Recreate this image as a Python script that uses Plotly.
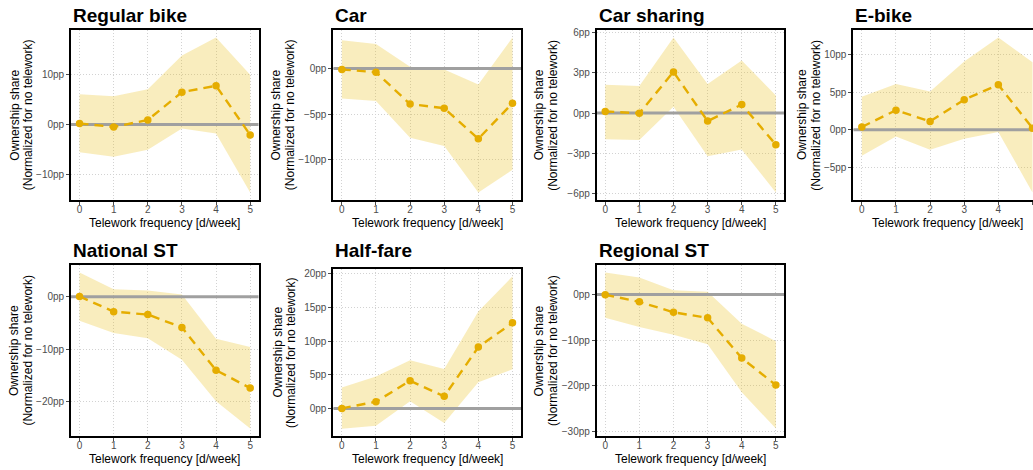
import plotly.graph_objects as go

W, H = 1033, 470

X = [0, 1, 2, 3, 4, 5]
X_TICKS = [0, 1, 2, 3, 4, 5]

panels = ["Regular bike", "Car", "Car sharing", "E-bike", "National ST", "Half-fare", "Regional ST"]

rb_est = [0.2, -0.5, 0.9, 6.5, 7.8, -2.1]
rb_lo = [-5.6, -6.5, -5.1, -0.8, -1.8, -13.7]
rb_hi = [6.1, 5.7, 7.1, 13.9, 17.5, 10.0]

car_est = [-0.1, -0.4, -3.9, -4.35, -7.7, -3.8]
car_lo = [-3.3, -3.55, -7.6, -8.5, -13.6, -11.1]
car_hi = [3.1, 2.7, 0.2, -0.1, -1.75, 3.4]

cs_est = [0.12, -0.02, 3.05, -0.6, 0.63, -2.35]
cs_lo = [-1.95, -2.0, 0.47, -3.2, -2.7, -5.9]
cs_hi = [2.1, 2.0, 5.6, 2.15, 3.9, 1.3]

eb_est = [0.35, 2.6, 1.1, 4.0, 6.0, 0.2]
eb_lo = [-3.5, -0.9, -2.7, -1.2, -0.3, -8.4]
eb_hi = [4.4, 6.1, 5.1, 9.1, 12.3, 9.0]

nst_est = [0.05, -2.85, -3.4, -5.85, -14.0, -17.4]
nst_lo = [-4.6, -6.9, -7.9, -12.0, -19.9, -25.1]
nst_hi = [4.6, 1.4, 1.2, 0.4, -8.0, -9.6]

hf_est = [0.0, 1.0, 4.1, 1.8, 9.1, 12.7]
hf_lo = [-3.0, -2.55, 1.05, -2.15, 3.9, 5.8]
hf_hi = [3.1, 4.75, 7.15, 5.85, 14.4, 19.6]

rst_est = [-0.05, -1.6, -3.9, -5.1, -13.9, -19.8]
rst_lo = [-5.1, -7.1, -8.8, -10.9, -21.4, -29.3]
rst_hi = [4.8, 3.7, 0.95, 0.6, -6.4, -10.2]

y_ticks = [
    [-10, 0, 10],
    [-10, -5, 0],
    [-6, -3, 0, 3, 6],
    [-5, 0, 5, 10],
    [-20, -10, 0],
    [0, 5, 10, 15, 20],
    [-30, -20, -10, 0],
]

data = [
    (rb_est, rb_lo, rb_hi),
    (car_est, car_lo, car_hi),
    (cs_est, cs_lo, cs_hi),
    (eb_est, eb_lo, eb_hi),
    (nst_est, nst_lo, nst_hi),
    (hf_est, hf_lo, hf_hi),
    (rst_est, rst_lo, rst_hi),
]

# layout in pixels
PANEL_W = 187.7
col_left = [71, 333.3, 596.7, 853.3]
row_top = [27, 264]
row_bot = [199, 437]
ytitle_cx = [[21.4, 283.3, 546.0, 808.8], [20.3, 283.8, 545.7]]

GOLD = "#E5AD00"
RIBBON = "rgba(235,190,20,0.28)"
TICKCOL = "#4D4D4D"
GRID = "#D2D2D2"
FONT = "Liberation Sans, Arial, sans-serif"


def fmt(v):
    s = f"{abs(v):g}pp"
    return ("\u2212" + s) if v < 0 else s


fig = go.Figure()
layout = dict(
    width=W, height=H,
    margin=dict(l=0, r=0, t=0, b=0),
    paper_bgcolor="white", plot_bgcolor="white",
    showlegend=False,
    font=dict(family=FONT, color="black"),
)
annotations = []

for i, name in enumerate(panels):
    est, lo, hi = data[i]
    r, c = (0, i) if i < 4 else (1, i - 4)
    xl = col_left[c]
    xr = min(xl + PANEL_W, W)
    top = row_top[r] + (4 if name == "Half-fare" else 0)
    bot = row_bot[r]

    xlo = min(X) - 0.05 * (max(X) - min(X))
    xhi_full = max(X) + 0.05 * (max(X) - min(X))
    scale = PANEL_W / (xhi_full - xlo)
    xhi = xlo + (xr - xl) / scale

    ymin, ymax = min(min(lo), 0), max(max(hi), 0)
    R = ymax - ymin
    yr = [ymin - 0.05 * R, ymax + 0.05 * R]

    xs = "x" if i == 0 else f"x{i+1}"
    ys = "y" if i == 0 else f"y{i+1}"
    xa = "xaxis" if i == 0 else f"xaxis{i+1}"
    ya = "yaxis" if i == 0 else f"yaxis{i+1}"

    fig.add_trace(go.Scatter(
        x=X + X[::-1], y=hi + lo[::-1], fill="toself", fillcolor=RIBBON,
        line=dict(width=0), mode="lines", hoverinfo="skip", xaxis=xs, yaxis=ys))
    fig.add_trace(go.Scatter(
        x=[xlo, xhi_full], y=[0, 0], mode="lines",
        line=dict(color="#A0A0A0", width=3), hoverinfo="skip", xaxis=xs, yaxis=ys))
    fig.add_trace(go.Scatter(
        x=X, y=est, mode="lines+markers",
        line=dict(color=GOLD, width=2.4, dash="9px,6px"),
        marker=dict(color=GOLD, size=7.5), xaxis=xs, yaxis=ys))

    is_clipped = name == "E-bike"
    layout[xa] = dict(
        domain=[xl / W, xr / W], range=[xlo, xhi], anchor=ys,
        tickvals=X_TICKS, ticktext=[str(t) for t in X_TICKS],
        ticks="outside", ticklen=3, tickcolor=TICKCOL, tickwidth=1,
        ticklabelstandoff=-4,
        tickfont=dict(size=10, color=TICKCOL, family=FONT),
        showgrid=True, gridcolor=GRID, griddash="1px,2px", gridwidth=1,
        zeroline=False, showline=True, linecolor="black", linewidth=1.7,
        mirror=True, fixedrange=True,
    )
    layout[ya] = dict(
        domain=[1 - bot / H, 1 - top / H], range=yr, anchor=xs,
        tickvals=y_ticks[i], ticktext=[fmt(v) for v in y_ticks[i]],
        ticks="outside", ticklen=3, tickcolor=TICKCOL, tickwidth=1,
        tickfont=dict(size=10, color=TICKCOL, family=FONT),
        showgrid=True, gridcolor=GRID, griddash="1px,2px", gridwidth=1,
        zeroline=False, showline=True, linecolor="black", linewidth=1.7,
        mirror=(not is_clipped), fixedrange=True,
    )

    # panel title
    annotations.append(dict(
        text=f"<b>{name}</b>", x=xl / W, y=1 - (row_top[r] - 14) / H,
        xref="paper", yref="paper", xanchor="left", yanchor="middle",
        showarrow=False, font=dict(size=19, color="black", family=FONT)))
    # x title
    annotations.append(dict(
        text="Telework frequency [d/week]", x=(xl + PANEL_W / 2) / W,
        y=1 - (bot + 23) / H, xref="paper", yref="paper",
        xanchor="center", yanchor="middle", showarrow=False,
        font=dict(size=12, color="black", family=FONT)))
    # y title (two lines)
    cy = 1 - ((top + bot) / 2) / H
    cx = ytitle_cx[r][c]
    for k, line in enumerate(["Ownership share", "(Normalized for no telework)"]):
        annotations.append(dict(
            text=line, x=(cx + (-6.8 if k == 0 else 6.8)) / W, y=cy,
            xref="paper", yref="paper", xanchor="center", yanchor="middle",
            textangle=-90, showarrow=False,
            font=dict(size=12, color="black", family=FONT)))

layout["annotations"] = annotations
fig.update_layout(**layout)
fig.write_html(
    "out.html",
    config={"displayModeBar": False},
    post_script="document.body.style.margin='0';document.body.style.overflow='hidden';",
)
